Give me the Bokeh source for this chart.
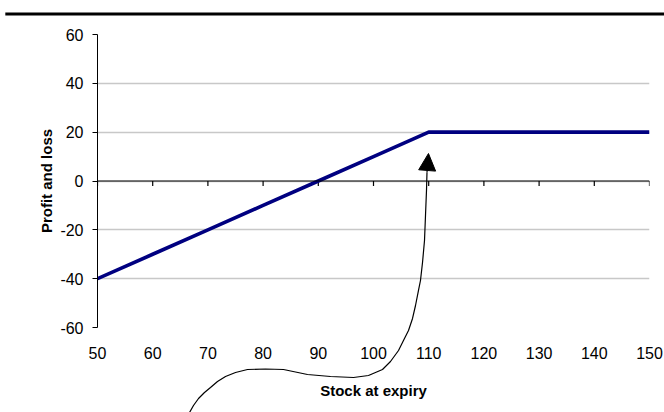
from bokeh.plotting import figure
from bokeh.models import (Span, Arrow, NormalHead, FixedTicker)
from bokeh.embed import file_html
from bokeh.resources import INLINE

# ---- data ----
stock = [50, 60, 70, 80, 90, 100, 110, 120, 130, 140, 150]
pnl = [-40, -30, -20, -10, 0, 10, 20, 20, 20, 20, 20]
x_ticks = [50, 60, 70, 80, 90, 100, 110, 120, 130, 140, 150]
y_ticks = [-60, -40, -20, 0, 20, 40, 60]
y_tick_labels = ["-60", "-40", "-20", "0", "20", "40", "60"]

# hand-drawn annotation arrow path (data coordinates)
arrow_x = [66.67, 67.39, 68.30, 69.38, 70.47, 71.74, 73.19, 75.00, 77.17, 80.43,
           83.70, 85.87, 88.04, 92.21, 96.38, 99.09, 101.63, 103.08, 104.53, 105.43,
           106.34, 107.07, 107.61, 108.15, 108.51, 108.88, 109.24, 109.42, 109.60, 109.69]
arrow_y = [-94.81, -91.95, -89.08, -86.62, -84.57, -82.11, -80.07, -78.43, -77.20, -77.00,
           -77.20, -78.22, -79.25, -80.07, -80.48, -79.66, -77.20, -73.92, -69.42, -65.33,
           -61.23, -56.31, -50.99, -44.84, -40.75, -33.38, -24.37, -14.13, -3.89, 3.48]
arrow_tip = (109.96, 11.26)
top_rule_x = [33.3, 152.7]
top_rule_y = [68.4, 68.4]

FONT = "Liberation Sans"

p = figure(width=664, height=412, x_range=(50, 150), y_range=(-60, 60),
           output_backend="svg", toolbar_location=None,
           min_border_left=97, min_border_right=15, min_border_top=34, min_border_bottom=85)
p.outline_line_color = None
p.background_fill_color = "white"
p.border_fill_color = "white"

# y axis
p.yaxis.ticker = FixedTicker(ticks=y_ticks)
p.yaxis.major_label_overrides = dict(zip(y_ticks, y_tick_labels))
p.yaxis.minor_tick_line_color = None
p.yaxis.major_tick_out = 5
p.yaxis.major_tick_in = 0
p.yaxis.major_label_standoff = 9
p.yaxis.axis_line_color = "black"
p.yaxis.major_tick_line_color = "black"
p.yaxis.major_label_text_font = FONT
p.yaxis.major_label_text_font_size = "16px"
p.yaxis.major_label_text_color = "black"
p.yaxis.axis_label = "Profit and loss"
p.yaxis.axis_label_text_font = FONT
p.yaxis.axis_label_text_font_size = "15px"
p.yaxis.axis_label_text_font_style = "bold"
p.yaxis.axis_label_text_color = "black"
p.yaxis.axis_label_standoff = 2

# x axis (labels only; line drawn at y=0)
p.xaxis.ticker = FixedTicker(ticks=x_ticks)
p.xaxis.axis_line_color = None
p.xaxis.major_tick_line_color = None
p.xaxis.minor_tick_line_color = None
p.xaxis.major_tick_out = 0
p.xaxis.major_tick_in = 0
p.xaxis.major_label_standoff = 19
p.xaxis.major_label_text_font = FONT
p.xaxis.major_label_text_font_size = "16px"
p.xaxis.major_label_text_color = "black"
p.xaxis.axis_label = "Stock at expiry"
p.xaxis.axis_label_text_font = FONT
p.xaxis.axis_label_text_font_size = "15px"
p.xaxis.axis_label_text_font_style = "bold"
p.xaxis.axis_label_text_color = "black"
p.xaxis.axis_label_standoff = 20

# grid
p.xgrid.grid_line_color = None
p.ygrid.ticker = FixedTicker(ticks=y_ticks)
p.ygrid.grid_line_color = "#c8c8c8"
p.ygrid.grid_line_width = 1.5

# x axis line at zero with downward ticks
p.add_layout(Span(location=0, dimension="width", line_color="black", line_width=1.2))
p.segment(x0=x_ticks, y0=[0] * len(x_ticks), x1=x_ticks, y1=[-2.05] * len(x_ticks),
          line_color="black", line_width=1.2)

# payoff line
p.line(stock, pnl, line_color="#000080", line_width=3.6)

# hand drawn arrow (overlay level so it may leave the frame)
p.line(arrow_x, arrow_y, line_color="black", line_width=1.2, level="overlay")
p.add_layout(Arrow(end=NormalHead(size=17, fill_color="black", line_color="black", line_width=1),
                   x_start=arrow_x[-1], y_start=arrow_y[-1],
                   x_end=arrow_tip[0], y_end=arrow_tip[1],
                   line_color="black", line_width=1.2))

# top rule
p.line(top_rule_x, top_rule_y, line_color="black", line_width=3, level="overlay")

open("out.html", "w").write(file_html(p, INLINE))
